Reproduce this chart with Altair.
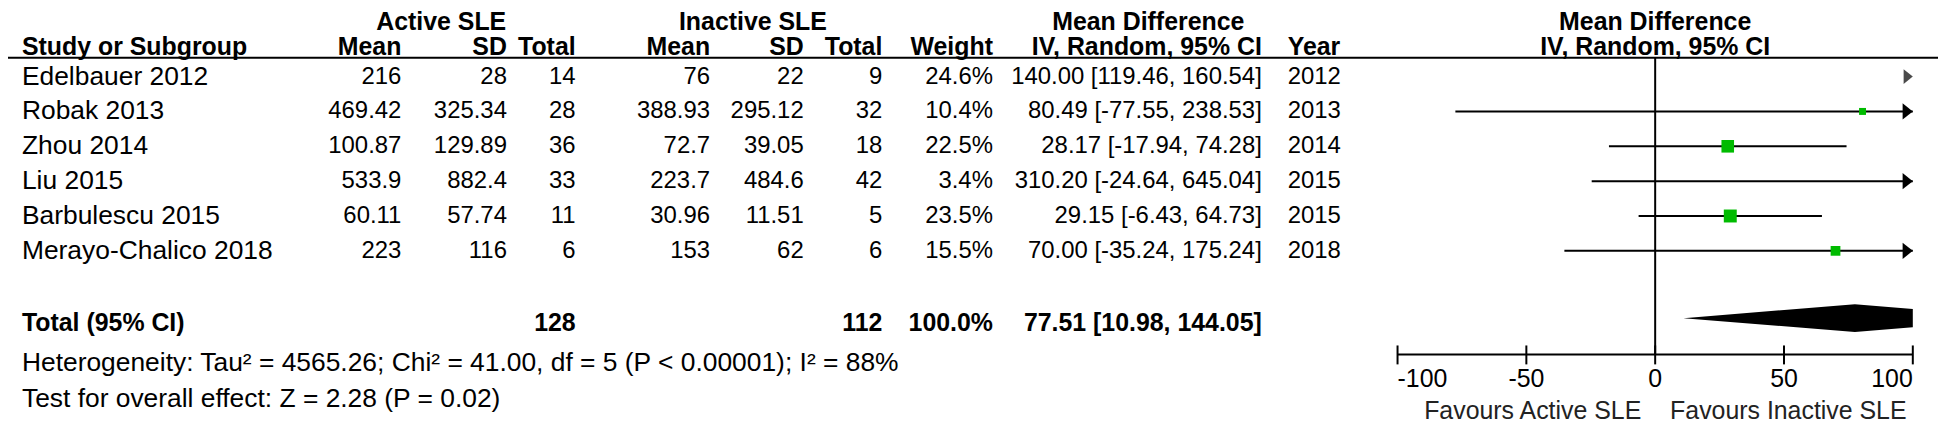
import altair as alt
import pandas as pd

# ---------------- data ----------------
studies = ["Edelbauer 2012", "Robak 2013", "Zhou 2014", "Liu 2015",
           "Barbulescu 2015", "Merayo-Chalico 2018"]
act_mean = ["216", "469.42", "100.87", "533.9", "60.11", "223"]
act_sd = ["28", "325.34", "129.89", "882.4", "57.74", "116"]
act_n = [14, 28, 36, 33, 11, 6]
inact_mean = ["76", "388.93", "72.7", "223.7", "30.96", "153"]
inact_sd = ["22", "295.12", "39.05", "484.6", "11.51", "62"]
inact_n = [9, 32, 18, 42, 5, 6]
weights = [24.6, 10.4, 22.5, 3.4, 23.5, 15.5]
md = [140.00, 80.49, 28.17, 310.20, 29.15, 70.00]
ci_lo = [119.46, -77.55, -17.94, -24.64, -6.43, -35.24]
ci_hi = [160.54, 238.53, 74.28, 645.04, 64.73, 175.24]
years = [2012, 2013, 2014, 2015, 2015, 2018]

total_label = "Total (95% CI)"
total_n_act = 128
total_n_inact = 112
total_weight = "100.0%"
total_md, total_lo, total_hi = 77.51, 10.98, 144.05
het_text = "Heterogeneity: Tau\u00b2 = 4565.26; Chi\u00b2 = 41.00, df = 5 (P < 0.00001); I\u00b2 = 88%"
test_text = "Test for overall effect: Z = 2.28 (P = 0.02)"

tick_values = [-100, -50, 0, 50, 100]
tick_labels = ["-100", "-50", "0", "50", "100"]
favours_left = "Favours Active SLE"
favours_right = "Favours Inactive SLE"

# ---------------- layout ----------------
W, H = 1938, 416
FONT = "Liberation Sans"
FS = 24          # numeric table cells
FS_NAME = 26.5   # study names
FS_B = 25        # bold headers
FS_NOTE = 26.5   # footnotes
FS_AX = 25
AX_MIN, AX_MAX = -100, 100
PX_MIN, PX_MAX = 1395.3, 1912.7          # where -100 and 100 sit
ppu = (PX_MAX - PX_MIN) / (AX_MAX - AX_MIN)
x_dom = [AX_MIN - PX_MIN / ppu, AX_MAX + (W - PX_MAX) / ppu]
xscale = alt.Scale(domain=x_dom, nice=False, zero=False)

ROW0, ROWSTEP = 68, 35
yscale = alt.Scale(domain=[-ROW0 / ROWSTEP, (H - ROW0) / ROWSTEP],
                   nice=False, zero=False, reverse=True)
TOTAL_TEXT_ROW = 7.08
TOTAL_DIAMOND_ROW = 6.93
DIAMOND_HALF = 0.4

Y_HDR1_BASE, Y_HDR2, Y_LINE = 21, 38, 49
Y_AXIS = 347
Y_TICKLAB = 372
Y_FAV = 404
Y_HET, Y_TEST = 356, 392

COL_RIGHT = {"am": 395, "asd": 501, "an": 570, "im": 705, "isd": 799,
             "in": 878, "w": 989, "ci": 1259}
X_STUDY = 14
X_YEAR = 1285
X_PLOT_HDR = 1654

# ---------------- frames ----------------
rows = list(range(len(studies)))
df = pd.DataFrame({
    "row": rows, "study": studies, "am": act_mean, "asd": act_sd,
    "an": [str(v) for v in act_n], "im": inact_mean, "isd": inact_sd,
    "in": [str(v) for v in inact_n],
    "w": [f"{v:.1f}%" for v in weights],
    "ci": [f"{m:.2f} [{l:.2f}, {h:.2f}]" for m, l, h in zip(md, ci_lo, ci_hi)],
    "year": [str(y) for y in years],
    "md": md, "lo": ci_lo, "hi": ci_hi, "weight": weights,
})
df["lo_c"] = df["lo"].clip(lower=AX_MIN)
df["hi_c"] = df["hi"].clip(upper=AX_MAX)
df["axmax"] = AX_MAX

Y = alt.Y("row:Q", scale=yscale, axis=None)


def txt(text, x, y, align="left", bold=False, size=FS, baseline="middle"):
    return alt.Chart(pd.DataFrame({"t": [text]})).mark_text(
        align=align, baseline=baseline, font=FONT, fontSize=size,
        fontWeight="bold" if bold else "normal", color="black"
    ).encode(x=alt.value(x), y=alt.value(y), text="t:N")


layers = []

# group headers
layers += [
    txt("Active SLE", 435, Y_HDR1_BASE, "center", True, FS_B, "alphabetic"),
    txt("Inactive SLE", 748, Y_HDR1_BASE, "center", True, FS_B, "alphabetic"),
    txt("Mean Difference", 1145, Y_HDR1_BASE, "center", True, FS_B, "alphabetic"),
    txt("Mean Difference", X_PLOT_HDR, Y_HDR1_BASE, "center", True, FS_B, "alphabetic"),
]
# column headers
layers += [
    txt("Study or Subgroup", X_STUDY, Y_HDR2, "left", True, FS_B),
    txt("Mean", COL_RIGHT["am"], Y_HDR2, "right", True, FS_B),
    txt("SD", COL_RIGHT["asd"], Y_HDR2, "right", True, FS_B),
    txt("Total", COL_RIGHT["an"], Y_HDR2, "right", True, FS_B),
    txt("Mean", COL_RIGHT["im"], Y_HDR2, "right", True, FS_B),
    txt("SD", COL_RIGHT["isd"], Y_HDR2, "right", True, FS_B),
    txt("Total", COL_RIGHT["in"], Y_HDR2, "right", True, FS_B),
    txt("Weight", COL_RIGHT["w"], Y_HDR2, "right", True, FS_B),
    txt("IV, Random, 95% CI", COL_RIGHT["ci"], Y_HDR2, "right", True, FS_B),
    txt("Year", X_YEAR, Y_HDR2, "left", True, FS_B),
    txt("IV, Random, 95% CI", X_PLOT_HDR, Y_HDR2, "center", True, FS_B),
]

# header underline
layers.append(alt.Chart(pd.DataFrame({"a": [0]})).mark_rule(
    color="black", strokeWidth=2).encode(
    x=alt.value(0), x2=alt.value(W), y=alt.value(Y_LINE)))

# table body
base = alt.Chart(df)
layers.append(base.mark_text(align="left", baseline="middle", font=FONT,
                             fontSize=FS_NAME, color="black").encode(
    x=alt.value(X_STUDY), y=Y, text="study:N"))
for key in ["am", "asd", "an", "im", "isd", "in", "w", "ci"]:
    layers.append(base.mark_text(align="right", baseline="middle", font=FONT,
                                 fontSize=FS, color="black").encode(
        x=alt.value(COL_RIGHT[key]), y=Y, text=f"{key}:N"))
layers.append(base.mark_text(align="left", baseline="middle", font=FONT,
                             fontSize=FS, color="black").encode(
    x=alt.value(X_YEAR), y=Y, text="year:N"))

# total row
tot = pd.DataFrame({"row": [TOTAL_TEXT_ROW], "lab": [total_label],
                    "an": [str(total_n_act)], "in": [str(total_n_inact)],
                    "w": [total_weight],
                    "ci": [f"{total_md:.2f} [{total_lo:.2f}, {total_hi:.2f}]"]})
tb = alt.Chart(tot)
layers.append(tb.mark_text(align="left", baseline="middle", font=FONT,
                           fontSize=FS_B, fontWeight="bold", color="black").encode(
    x=alt.value(X_STUDY), y=Y, text="lab:N"))
for key in ["an", "in", "w", "ci"]:
    layers.append(tb.mark_text(align="right", baseline="middle", font=FONT,
                               fontSize=FS_B, fontWeight="bold", color="black").encode(
        x=alt.value(COL_RIGHT[key]), y=Y, text=f"{key}:N"))

# footnotes
layers += [txt(het_text, X_STUDY, Y_HET, size=FS_NOTE),
           txt(test_text, X_STUDY, Y_TEST, size=FS_NOTE)]

# zero line
layers.append(alt.Chart(pd.DataFrame({"z": [0]})).mark_rule(
    color="black", strokeWidth=2).encode(
    x=alt.X("z:Q", scale=xscale, axis=None),
    y=alt.value(Y_LINE), y2=alt.value(Y_AXIS)))

# CI lines
inside = df[df["lo_c"] < df["hi_c"]]
layers.append(alt.Chart(inside).mark_rule(color="black", strokeWidth=2).encode(
    x=alt.X("lo_c:Q", scale=xscale, axis=None), x2="hi_c:Q", y=Y))

# arrows for CIs beyond the axis
arrow_shape = "M -1 -0.8 L 0 0 L -1 0.8 Z"
arr_line = df[(df["hi"] > AX_MAX) & (df["lo"] < AX_MAX)]
arr_only = df[df["lo"] >= AX_MAX]
layers.append(alt.Chart(arr_line).mark_point(
    shape=arrow_shape, size=420, filled=True, color="black", opacity=1,
    strokeWidth=0).encode(x=alt.X("axmax:Q", scale=xscale, axis=None), y=Y))
layers.append(alt.Chart(arr_only).mark_point(
    shape=arrow_shape, size=340, filled=True, color="#4a4a4a", opacity=1,
    strokeWidth=0).encode(x=alt.X("axmax:Q", scale=xscale, axis=None), y=Y))

# study squares
sq = df[(df["md"] >= AX_MIN) & (df["md"] <= AX_MAX)]
layers.append(alt.Chart(sq).mark_square(filled=True, color="#00bb00",
                                         opacity=1).encode(
    x=alt.X("md:Q", scale=xscale, axis=None), y=Y,
    size=alt.Size("weight:Q", scale=alt.Scale(domain=[10.4, 23.5],
                                              range=[49, 169]), legend=None)))

# pooled diamond (clipped at the axis end)
k = (total_hi - AX_MAX) / (total_hi - total_md) if total_hi > AX_MAX else 0
dx = [total_lo, total_md, min(total_hi, AX_MAX)]
half = [0, DIAMOND_HALF, DIAMOND_HALF * k]
dia = pd.DataFrame({"x": dx,
                    "top": [TOTAL_DIAMOND_ROW - h for h in half],
                    "bot": [TOTAL_DIAMOND_ROW + h for h in half]})
layers.append(alt.Chart(dia).mark_area(color="black", orient="vertical",
                                       opacity=1).encode(
    x=alt.X("x:Q", scale=xscale, axis=None),
    y=alt.Y("top:Q", scale=yscale, axis=None), y2="bot:Q"))

# manual axis
axdf = pd.DataFrame({"a": [AX_MIN], "b": [AX_MAX]})
layers.append(alt.Chart(axdf).mark_rule(color="black", strokeWidth=2).encode(
    x=alt.X("a:Q", scale=xscale, axis=None), x2="b:Q", y=alt.value(Y_AXIS)))
ticks = pd.DataFrame({"v": tick_values, "lab": tick_labels})
layers.append(alt.Chart(ticks).mark_rule(color="black", strokeWidth=2).encode(
    x=alt.X("v:Q", scale=xscale, axis=None),
    y=alt.value(Y_AXIS - 9), y2=alt.value(Y_AXIS + 10)))
for sub, al in [(ticks.iloc[[0]], "left"), (ticks.iloc[1:-1], "center"),
                (ticks.iloc[[-1]], "right")]:
    layers.append(alt.Chart(sub).mark_text(
        align=al, baseline="middle", font=FONT, fontSize=FS_AX,
        color="black").encode(
        x=alt.X("v:Q", scale=xscale, axis=None), y=alt.value(Y_TICKLAB),
        text="lab:N"))

fav = pd.DataFrame({"z": [0]})
layers.append(alt.Chart(fav).mark_text(
    align="right", baseline="middle", font=FONT, fontSize=FS_AX, dx=-14,
    color="#222222", text=favours_left).encode(
    x=alt.X("z:Q", scale=xscale, axis=None), y=alt.value(Y_FAV)))
layers.append(alt.Chart(fav).mark_text(
    align="left", baseline="middle", font=FONT, fontSize=FS_AX, dx=15,
    color="#222222", text=favours_right).encode(
    x=alt.X("z:Q", scale=xscale, axis=None), y=alt.value(Y_FAV)))

chart = alt.layer(*layers).properties(
    width=W, height=H, padding=0,
    autosize=alt.AutoSizeParams(type="none"),
    background="white",
).configure_view(stroke=None)

chart.save("out.html", embed_options={"renderer": "svg", "actions": False})
